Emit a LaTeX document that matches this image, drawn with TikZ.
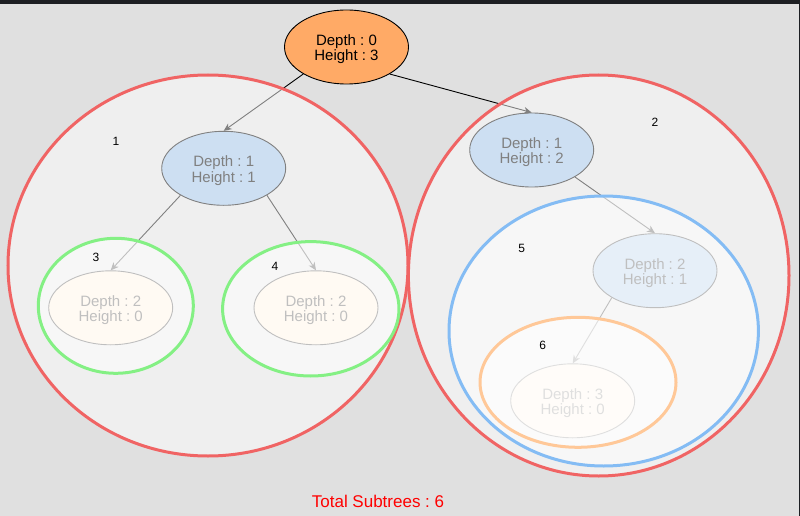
\documentclass[tikz,border=0pt]{standalone}
\usepackage{fontspec}
\setmainfont{Liberation Sans}
\usetikzlibrary{shapes.geometric,arrows.meta}
\frenchspacing

\definecolor{canvas}{HTML}{E0E0E0}
\definecolor{topbar}{HTML}{1D1F23}
\definecolor{rootfill}{HTML}{FFAA66}
\definecolor{innerfill}{HTML}{9BBFE5}
\definecolor{leaffill}{HTML}{FFEBCF}
\definecolor{ringred}{HTML}{F06464}
\definecolor{ringgreen}{HTML}{84F084}
\definecolor{ringblue}{HTML}{84BCF4}
\definecolor{ringorange}{HTML}{FFC898}

% two-line node text; the tall first-line strut sits the pair on the centre
\newcommand{\depthheight}[2]{\rule{0pt}{15.3pt}Depth : #1\\Height : #2}

\tikzset{
  treenode/.style={ellipse, draw=black, line width=0.9pt, text=black,
    minimum width=124pt, minimum height=74pt, inner sep=0pt, align=center,
    font=\fontsize{15}{15.5}\selectfont},
  rootnode/.style={treenode, fill=rootfill},
  midnode/.style={treenode, fill=innerfill},
  leafnode/.style={treenode, fill=leaffill},
  edge/.style={draw=black, line width=0.9pt,
    -{Stealth[length=8pt,width=7pt,inset=2.5pt]}},
  ring/.style={fill=white, fill opacity=0.5, line width=3pt},
  ringlabel/.style={text=black, font=\fontsize{12}{12}\selectfont, inner sep=0pt},
}

\begin{document}
\begin{tikzpicture}[x=1pt,y=-1pt]
  % canvas
  \useasboundingbox (0,0) rectangle (800,516);
  \fill[canvas] (0,0) rectangle (800,516);
  \fill[topbar] (0,0) rectangle (800,4);
  \fill[topbar] (798.5,0) rectangle (800,516);

  % tree
  \node[rootnode] (root) at (346.5,47)    {\depthheight{0}{3}};
  \node[midnode]  (d1l)  at (223.7,168.3) {\depthheight{1}{1}};
  \node[midnode]  (d1r)  at (531.7,150)   {\depthheight{1}{2}};
  \node[leafnode] (d2a)  at (110.7,307.8) {\depthheight{2}{0}};
  \node[leafnode] (d2b)  at (316,307.8)   {\depthheight{2}{0}};
  \node[midnode]  (d2c)  at (655,270.7)   {\depthheight{2}{1}};
  \node[leafnode] (d3)   at (572.7,400.8) {\depthheight{3}{0}};

  \draw[edge] (root.212) -- (d1l.north);
  \draw[edge] (root.328) -- (d1r.north);
  \draw[edge] (d1l.212)  -- (d2a.north);
  \draw[edge] (d1l.328)  -- (d2b.north);
  \draw[edge] (d1r.328)  -- (d2c.north);
  \draw[edge] (d2c.212)  -- (d3.north);

  % subtree regions, outermost first so nested ones fade further
  \path[ring, draw=ringred]    (208,265.5)   ellipse [x radius=200pt, y radius=190.5pt];
  \path[ring, draw=ringred]    (598.7,275.5) ellipse [x radius=190.3pt, y radius=200.5pt];
  \path[ring, draw=ringgreen]  (115.8,305.8) ellipse [x radius=77.5pt, y radius=67.5pt];
  \path[ring, draw=ringgreen]  (310.8,308.8) ellipse [x radius=88.2pt, y radius=67.2pt];
  \path[ring, draw=ringblue]   (603.7,331)   ellipse [x radius=154.7pt, y radius=135pt];
  \path[ring, draw=ringorange] (578,382.3)   ellipse [x radius=98pt, y radius=65pt];

  % subtree numbers
  \node[ringlabel] (lab1) at (116,141)   {1};
  \node[ringlabel] (lab2) at (655,122)   {2};
  \node[ringlabel] (lab3) at (96,257)    {3};
  \node[ringlabel] (lab4) at (275,266)   {4};
  \node[ringlabel] (lab5) at (521.7,248) {5};
  \node[ringlabel] (lab6) at (542.7,345) {6};

  \node[text=red, font=\fontsize{17}{17}\selectfont, anchor=base, inner sep=0pt]
    (total) at (378,507) {Total Subtrees : 6};
\end{tikzpicture}
\end{document}
